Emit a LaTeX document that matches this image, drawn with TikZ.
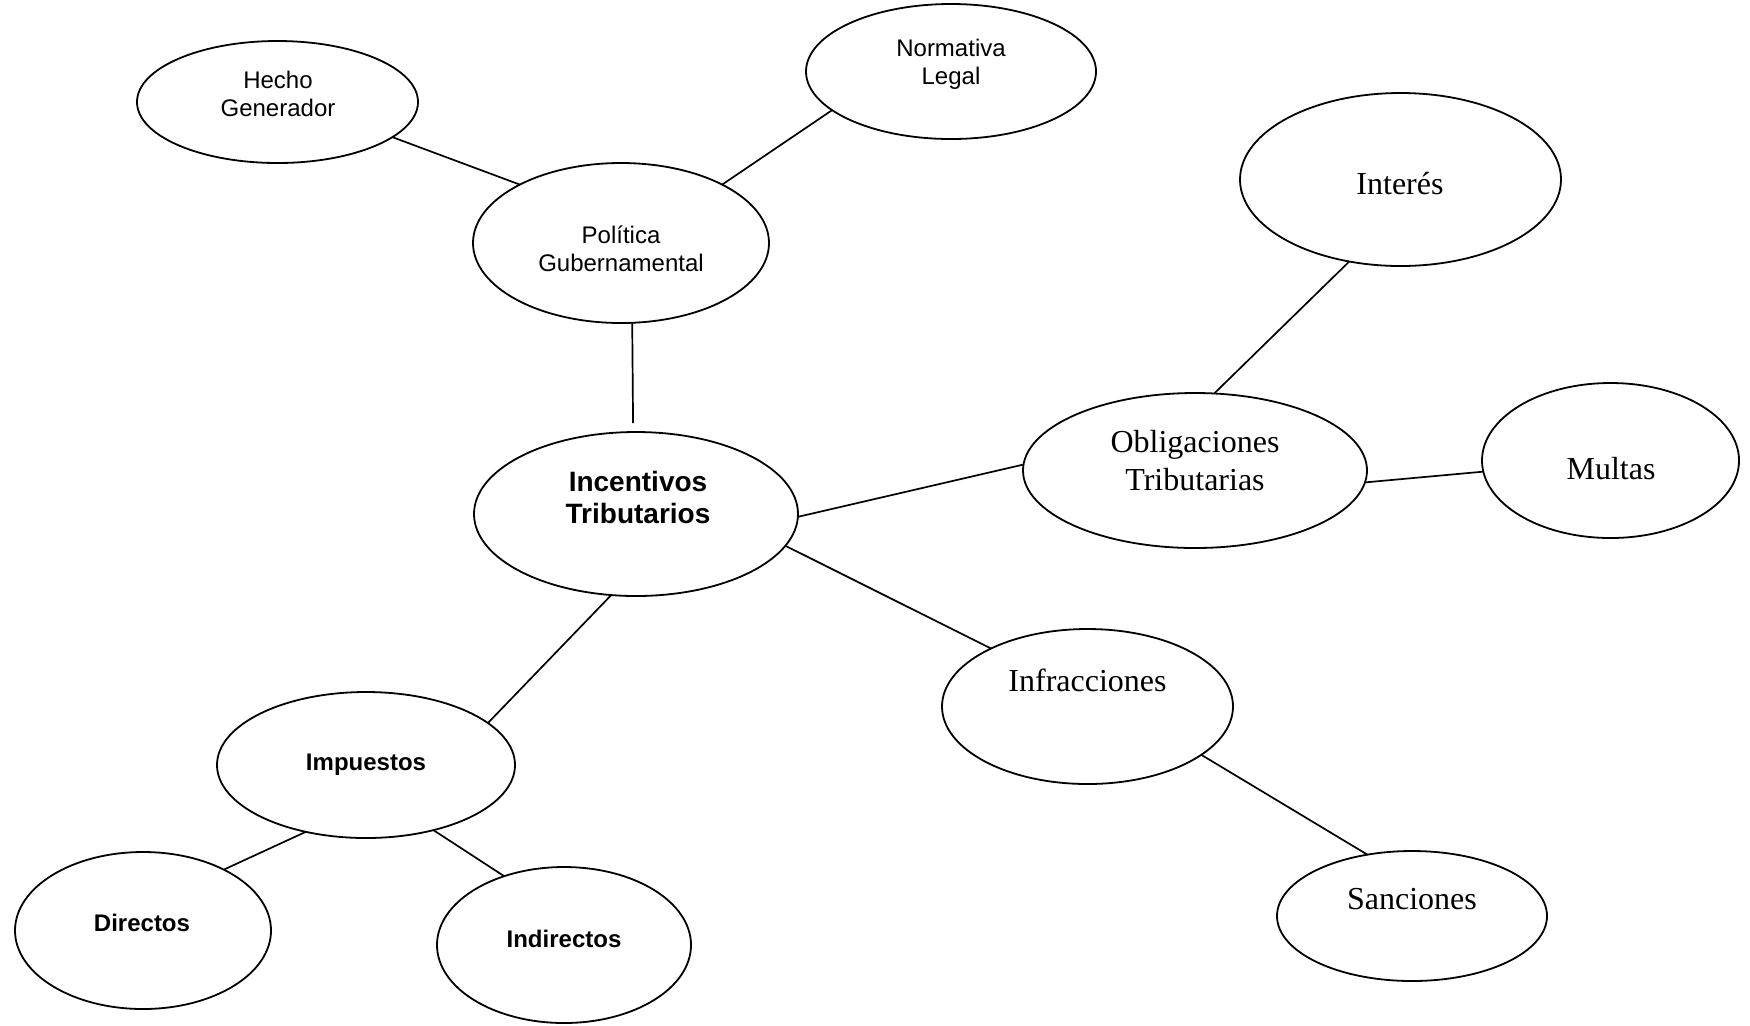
\documentclass[tikz,border=0pt]{standalone}
\usepackage{fontspec}
\setmainfont{Liberation Serif}
\setsansfont{Liberation Sans}
\usetikzlibrary{shapes.geometric}

% two centred lines whose baseline is the first line
\newcommand{\twoline}[2]{\begin{tabular}[t]{@{}c@{}}#1\\#2\end{tabular}}

\begin{document}
\begin{tikzpicture}[x=0.5pt,y=-0.5pt,
  bubble/.style={ellipse, draw, line width=0.9pt, inner sep=0pt, outer sep=0pt},
  link/.style={line width=0.85pt},
  sanslabel/.style={anchor=base, inner sep=0pt, font=\sffamily\fontsize{12}{14}\selectfont},
  sansbold/.style={anchor=base, inner sep=0pt, font=\sffamily\bfseries\fontsize{12}{14}\selectfont},
  sanstitle/.style={anchor=base, inner sep=0pt, font=\sffamily\bfseries\fontsize{14}{16}\selectfont},
  seriflabel/.style={anchor=base, inner sep=0pt, font=\rmfamily\fontsize{16}{19}\selectfont},
]
\useasboundingbox (0,0) rectangle (1750,1025);

% ellipses
\node[bubble, minimum width=140.5pt, minimum height=61pt]   (hecho)        at (277.5,102)   {};
\node[bubble, minimum width=145pt,   minimum height=67.5pt] (normativa)    at (951,71.5)    {};
\node[bubble, minimum width=148pt,   minimum height=80pt]   (politica)     at (621,243)     {};
\node[bubble, minimum width=160.5pt, minimum height=86.5pt] (interes)      at (1400.5,179.5){};
\node[bubble, minimum width=162pt,   minimum height=82pt]   (incentivos)   at (636,514)     {};
\node[bubble, minimum width=172pt,   minimum height=77.5pt] (obligaciones) at (1195,470.5)  {};
\node[bubble, minimum width=128.5pt, minimum height=77.5pt] (multas)       at (1610.5,460.5){};
\node[bubble, minimum width=145.5pt, minimum height=77.5pt] (infracciones) at (1087.5,706.5){};
\node[bubble, minimum width=149pt,   minimum height=73pt]   (impuestos)    at (366,765)     {};
\node[bubble, minimum width=128pt,   minimum height=78.5pt] (directos)     at (143,930.5)   {};
\node[bubble, minimum width=127pt,   minimum height=78pt]   (indirectos)   at (564,945)     {};
\node[bubble, minimum width=135pt,   minimum height=65pt]   (sanciones)    at (1412,916)    {};

% labels
\node[sanslabel]  (hecho-txt)        at (278,88)    {\twoline{Hecho}{Generador}};
\node[sanslabel]  (normativa-txt)    at (951,56)    {\twoline{Normativa}{Legal}};
\node[sanslabel]  (politica-txt)     at (621,243)   {\twoline{Política}{Gubernamental}};
\node[seriflabel] (interes-txt)      at (1400,194)  {Interés};
\node[sanstitle]  (incentivos-txt)   at (638,491)   {\twoline{Incentivos}{Tributarios}};
\node[seriflabel] (obligaciones-txt) at (1195,452)  {\twoline{Obligaciones}{Tributarias}};
\node[seriflabel] (multas-txt)       at (1611,479)  {Multas};
\node[seriflabel] (infracciones-txt) at (1087.5,691){Infracciones};
\node[sansbold]   (impuestos-txt)    at (366,770)   {Impuestos};
\node[sansbold]   (directos-txt)     at (142,931)   {Directos};
\node[sansbold]   (indirectos-txt)   at (564,947)   {Indirectos};
\node[seriflabel] (sanciones-txt)    at (1412,909)  {Sanciones};

% connectors
\draw[link] (hecho.-17.3) -- (politica.150.5);
\draw[link] (normativa.198.2) -- (politica.30.5);
\draw[link, shorten >=4.5pt] (politica.-82.9) -- (incentivos.92.8);
\draw[link] (incentivos.-1.1) -- (obligaciones.178.5);
\draw[link] (interes.-122) -- (obligaciones.76.2);
\draw[link] (obligaciones.-4.9) -- (multas.185.2);
\draw[link] (incentivos.-12.3) -- (infracciones.149.5);
\draw[link] (infracciones.-23.5) -- (sanciones.126.4);
\draw[link] (incentivos.-107.4) -- (impuestos.19.6);
\draw[link] (impuestos.-132.8) -- (directos.37);
\draw[link] (impuestos.-44.2) -- (indirectos.131.1);
\end{tikzpicture}
\end{document}
